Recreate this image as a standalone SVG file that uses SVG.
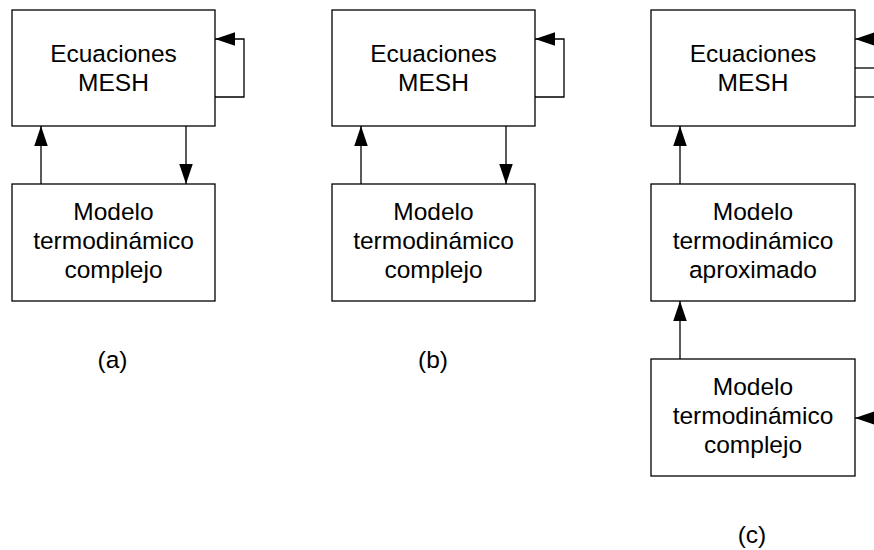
<svg xmlns="http://www.w3.org/2000/svg" width="874" height="550" viewBox="0 0 874 550">
<defs>
<style>
.box{fill:#fff;stroke:#000;stroke-width:1.3}
.ln{fill:none;stroke:#000;stroke-width:1.3}
.t{font-family:"Liberation Sans",Arial,sans-serif;font-size:24.5px;fill:#000;text-anchor:middle}
</style>
<marker id="ah" markerUnits="userSpaceOnUse" markerWidth="21" markerHeight="14" refX="20" refY="6.75" orient="auto">
<path d="M0,0 L20,6.75 L0,13.5 Z" fill="#000"/>
</marker>
</defs>
<rect width="874" height="550" fill="#fff"/>
<g id="a-mesh"><rect class="box" x="12" y="10" width="203" height="116"/><text class="t" x="113.5" y="62">Ecuaciones</text><text class="t" x="113.5" y="91">MESH</text></g>
<g id="a-complejo"><rect class="box" x="12" y="184" width="203" height="117"/><text class="t" x="113.5" y="220">Modelo</text><text class="t" x="113.5" y="249">termodinámico</text><text class="t" x="113.5" y="278">complejo</text></g>
<g id="b-mesh"><rect class="box" x="332" y="10" width="203" height="116"/><text class="t" x="433.5" y="62">Ecuaciones</text><text class="t" x="433.5" y="91">MESH</text></g>
<g id="b-complejo"><rect class="box" x="332" y="184" width="203" height="117"/><text class="t" x="433.5" y="220">Modelo</text><text class="t" x="433.5" y="249">termodinámico</text><text class="t" x="433.5" y="278">complejo</text></g>
<g id="c-mesh"><rect class="box" x="651" y="10" width="204" height="116"/><text class="t" x="753" y="62">Ecuaciones</text><text class="t" x="753" y="91">MESH</text></g>
<g id="c-aprox"><rect class="box" x="651" y="184" width="204" height="117"/><text class="t" x="753" y="220">Modelo</text><text class="t" x="753" y="249">termodinámico</text><text class="t" x="753" y="278">aproximado</text></g>
<g id="c-complejo"><rect class="box" x="651" y="359" width="204" height="117"/><text class="t" x="753" y="395">Modelo</text><text class="t" x="753" y="424">termodinámico</text><text class="t" x="753" y="453">complejo</text></g>
<g id="labels"><text class="t" x="112.5" y="368">(a)</text><text class="t" x="433" y="368">(b)</text><text class="t" x="752" y="543">(c)</text></g>
<g id="connectors">
<path class="ln" d="M41,184 V126" marker-end="url(#ah)"/>
<path class="ln" d="M186,126 V184" marker-end="url(#ah)"/>
<path class="ln" d="M215,97 H244 V39 H215" marker-end="url(#ah)"/>
<path class="ln" d="M361,184 V126" marker-end="url(#ah)"/>
<path class="ln" d="M506,126 V184" marker-end="url(#ah)"/>
<path class="ln" d="M535,97 H564 V39 H535" marker-end="url(#ah)"/>
<path class="ln" d="M680,184 V126" marker-end="url(#ah)"/>
<path class="ln" d="M680,359 V301" marker-end="url(#ah)"/>
<path class="ln" d="M880,39 H855" marker-end="url(#ah)"/>
<path class="ln" d="M855,68 H880"/>
<path class="ln" d="M855,97 H880"/>
<path class="ln" d="M880,418 H855" marker-end="url(#ah)"/>
</g>
</svg>
